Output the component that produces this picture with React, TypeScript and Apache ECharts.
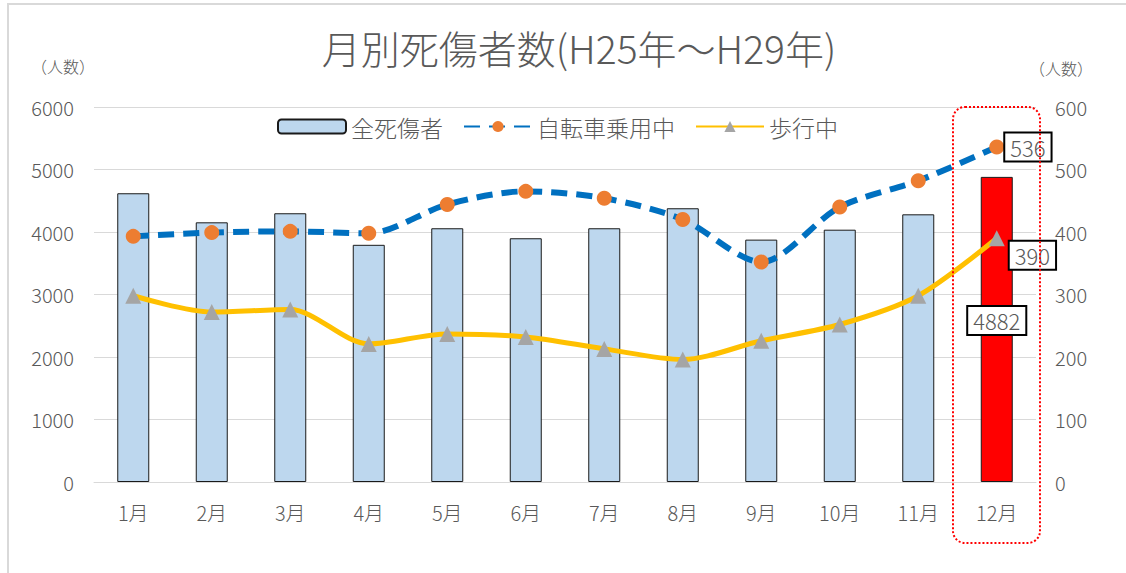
import React, { useEffect, useRef } from "react";
import * as echarts from "echarts";

const categories = ["1月", "2月", "3月", "4月", "5月", "6月", "7月", "8月", "9月", "10月", "11月", "12月"];
const totalCasualties = [4620, 4155, 4300, 3795, 4060, 3900, 4060, 4380, 3878, 4037, 4283, 4882];
const bicycleRiding = [393, 399, 401, 398, 444, 465, 454, 420, 352, 440, 482, 536];
const walking = [298, 272, 276, 221, 237, 232, 213, 196, 226, 252, 298, 390];
const leftTicks = [0, 1000, 2000, 3000, 4000, 5000, 6000];
const rightTicks = [0, 100, 200, 300, 400, 500, 600];

const FONT = "'Noto Sans CJK JP', 'Noto Sans', sans-serif";
const GRAY = "#595959";
const W = 300;

export default function App() {
  const ref = useRef<HTMLDivElement>(null);
  useEffect(() => {
    if (!ref.current) return;
    const chart = echarts.init(ref.current, null, { renderer: "svg" });
    const last = categories.length - 1;
    const labelBox = {
      show: true,
      color: GRAY,
      fontSize: 22,
      fontWeight: W,
      fontFamily: FONT,
      backgroundColor: "#fff",
      borderColor: "#000",
      borderWidth: 2,
      padding: [3, 5, 2, 5],
    };
    chart.setOption({
      animation: false,
      textStyle: { fontFamily: FONT },
      title: {
        text: "月別死傷者数(H25年～H29年)",
        left: 574,
        textAlign: "center",
        top: 22,
        textStyle: { fontSize: 39, fontWeight: W, color: GRAY, fontFamily: FONT },
      },
      legend: {
        left: 272,
        top: 110,
        itemWidth: 68,
        itemHeight: 14,
        itemGap: 20,
        textStyle: { fontSize: 23, fontWeight: W, color: GRAY, fontFamily: FONT },
        data: ["全死傷者", "自転車乗用中", "歩行中"],
      },
      grid: { left: 94, right: 90, top: 107, bottom: 91, containLabel: false },
      xAxis: {
        type: "category",
        data: categories,
        axisLine: { lineStyle: { color: "#d9d9d9", width: 1 } },
        axisTick: { show: false },
        axisLabel: { color: GRAY, fontSize: 20, fontWeight: W, margin: 20, fontFamily: FONT },
      },
      yAxis: [
        {
          type: "value",
          min: leftTicks[0],
          max: leftTicks[leftTicks.length - 1],
          interval: 1000,
          axisLine: { show: false },
          axisTick: { show: false },
          splitLine: { lineStyle: { color: "#d9d9d9" } },
          axisLabel: {
            color: GRAY,
            fontSize: 20,
            fontWeight: W,
            margin: 20,
            fontFamily: FONT,
            formatter: (v: number) => String(v),
          },
        },
        {
          type: "value",
          min: rightTicks[0],
          max: rightTicks[rightTicks.length - 1],
          interval: 100,
          axisLine: { show: false },
          axisTick: { show: false },
          splitLine: { show: false },
          axisLabel: {
            color: GRAY,
            fontSize: 20,
            fontWeight: W,
            margin: 19,
            fontFamily: FONT,
            formatter: (v: number) => String(v),
          },
        },
      ],
      series: [
        {
          name: "全死傷者",
          type: "bar",
          barWidth: 32,
          yAxisIndex: 0,
          itemStyle: { color: "#bdd7ee", borderColor: "#1a1a1a", borderWidth: 1 },
          data: totalCasualties.map((v, i) =>
            i === last
              ? {
                  value: v,
                  itemStyle: { color: "#ff0000", borderColor: "#1a1a1a", borderWidth: 1 },
                  label: { ...labelBox, position: "inside", offset: [0, -9] },
                }
              : v
          ),
          z: 1,
        },
        {
          name: "自転車乗用中",
          type: "line",
          yAxisIndex: 1,
          smooth: 0.3,
          symbol: "circle",
          symbolSize: 15,
          lineStyle: { color: "#0070c0", width: 6, type: [16, 9] },
          itemStyle: { color: "#ed7d31" },
          data: bicycleRiding.map((v, i) =>
            i === last ? { value: v, label: { ...labelBox, position: "right", distance: 1 } } : v
          ),
          z: 3,
        },
        {
          name: "歩行中",
          type: "line",
          yAxisIndex: 1,
          smooth: 0.3,
          symbol: "triangle",
          symbolSize: 16,
          lineStyle: { color: "#ffc000", width: 5 },
          itemStyle: { color: "#a5a5a5" },
          data: walking.map((v, i) =>
            i === last
              ? { value: v, label: { ...labelBox, position: "right", distance: 5, offset: [0, 17] } }
              : v
          ),
          z: 2,
        },
      ],
      graphic: [
        {
          type: "rect",
          shape: { x: 8, y: 4, width: 1200, height: 700 },
          style: { fill: "none", stroke: "#d9d9d9", lineWidth: 2 },
          silent: true,
        },
        {
          type: "text",
          x: 63,
          y: 66,
          style: { text: "（人数）", fontSize: 16, fontWeight: W, fill: GRAY, fontFamily: FONT, align: "center", verticalAlign: "middle" },
        },
        {
          type: "text",
          x: 1061,
          y: 68,
          style: { text: "（人数）", fontSize: 16, fontWeight: W, fill: GRAY, fontFamily: FONT, align: "center", verticalAlign: "middle" },
        },
        {
          type: "rect",
          shape: { x: 953, y: 107, width: 87, height: 436, r: 12 },
          style: { fill: "none", stroke: "#ff0000", lineWidth: 2, lineDash: [2, 2] },
          z: 10,
        },
      ],
    });
    return () => chart.dispose();
  }, []);
  return (
    <div
      ref={ref}
      style={{ position: "absolute", left: 0, top: 0, width: 1126, height: 573, background: "#fff" }}
    />
  );
}
